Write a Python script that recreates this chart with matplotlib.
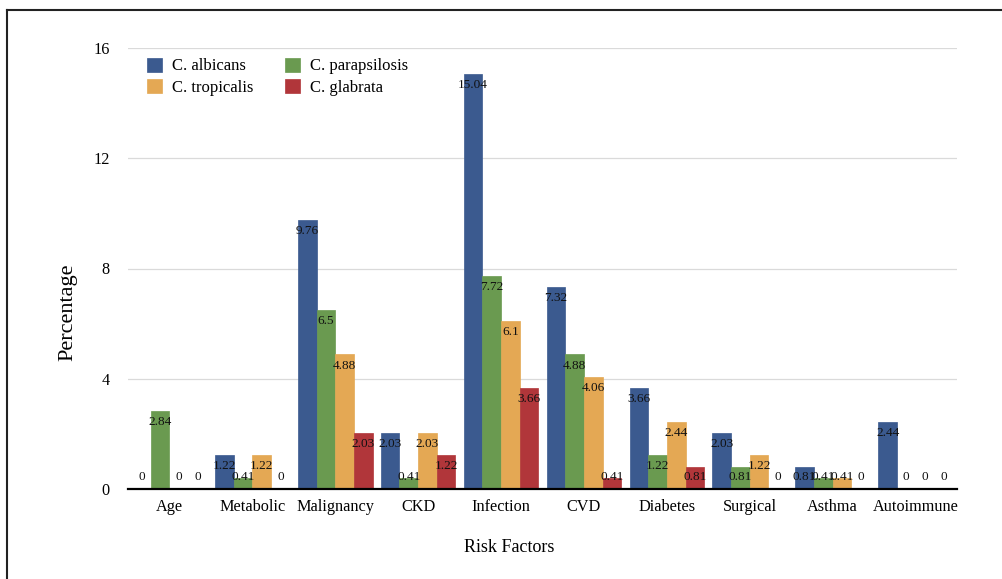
import matplotlib
matplotlib.use("Agg")
import matplotlib.pyplot as plt
import numpy as np

categories = ["Age", "Metabolic", "Malignancy", "CKD", "Infection", "CVD",
              "Diabetes", "Surgical", "Asthma", "Autoimmune"]
albicans = [0, 1.22, 9.76, 2.03, 15.04, 7.32, 3.66, 2.03, 0.81, 2.44]
parapsilosis = [2.84, 0.41, 6.5, 0.41, 7.72, 4.88, 1.22, 0.81, 0.41, 0]
tropicalis = [0, 1.22, 4.88, 2.03, 6.1, 4.06, 2.44, 1.22, 0.41, 0]
glabrata = [0, 0, 2.03, 1.22, 3.66, 0.41, 0.81, 0, 0, 0]

series = [("C. albicans", albicans, "#3B5A8F"),
          ("C. parapsilosis", parapsilosis, "#6A9A50"),
          ("C. tropicalis", tropicalis, "#E4A854"),
          ("C. glabrata", glabrata, "#B1363A")]

plt.rcParams['font.family'] = ['Liberation Serif', 'DejaVu Serif']

fig = plt.figure(figsize=(10.03, 5.79), dpi=100)
ax = fig.add_axes([128/1003, 90/579, (957-128)/1003, (489-48)/579])

x = np.arange(len(categories))
w = 0.225
handles = {}
for i, (name, vals, col) in enumerate(series):
    pos = x + (i - 1.5) * w
    b = ax.bar(pos, vals, width=w, color=col, edgecolor=col, linewidth=0.5, zorder=3)
    handles[name] = b
    for px, v in zip(pos, vals):
        ly = max(v - 0.4, 0.44)
        lab = f"{v:g}"
        ax.text(px, ly, lab, ha='center', va='center', fontsize=9.5,
                color='#111111', zorder=4)

ax.set_xlim(-0.5, len(categories) - 0.5)
ax.set_ylim(0, 16)
ax.set_yticks([0, 4, 8, 12, 16])
ax.set_xticks(x)
ax.set_xticklabels(categories, fontsize=11.7)
ax.tick_params(axis='y', labelsize=11.7, length=0, pad=13)
ax.tick_params(axis='x', length=0, pad=7)
for s in ['top', 'right', 'left']:
    ax.spines[s].set_visible(False)
ax.spines['bottom'].set_linewidth(1.6)
ax.spines['bottom'].set_color('black')
ax.spines['bottom'].set_zorder(5)
for g in [4, 8, 12, 16]:
    ax.axhline(g, color='#DADADA', linewidth=0.9, zorder=1)

order = ["C. albicans", "C. tropicalis", "C. parapsilosis", "C. glabrata"]
leg = ax.legend([handles[n] for n in order], order, ncol=2, frameon=False,
                fontsize=12, loc='upper left', bbox_to_anchor=(135/1003, 1 - 46/579),
                bbox_transform=fig.transFigure, handlelength=0.9, handleheight=0.9,
                handletextpad=0.6, columnspacing=1.9, labelspacing=0.3,
                borderpad=0.2)

fig.text(509/1003, 1 - 548/579, "Risk Factors", ha='center', va='center', fontsize=13)
fig.text(68/1003, 1 - 312/579, "Percentage", ha='center', va='center',
         rotation=90, fontsize=16)

# outer frame (top and left edges visible)
fig.add_artist(plt.Line2D([7/1003, 1.0], [1 - 9.5/579, 1 - 9.5/579],
                          transform=fig.transFigure, color='#222222', linewidth=1.5))
fig.add_artist(plt.Line2D([7.5/1003, 7.5/1003], [0, 1 - 9.5/579],
                          transform=fig.transFigure, color='#222222', linewidth=1.5))

fig.savefig("out.png", dpi=100)
